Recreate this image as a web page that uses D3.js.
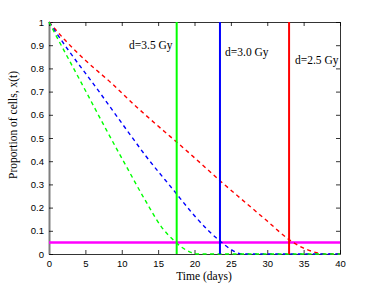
<!DOCTYPE html>
<html lang="en">
<head>
  <meta charset="UTF-8">
  <title>Proportion of cells over time</title>
  <script src="https://d3js.org/d3.v7.min.js"></script>
  <style>
    body { margin: 0; background: #fff; }
    svg { display: block; }
    .tick text { font-family: 'Liberation Sans', Arial, sans-serif; font-size: 9.5px; fill: #000; }
    .lbl { font-family: 'Liberation Serif', 'Times New Roman', serif; font-size: 11.5px; fill: #000; }
  </style>
</head>
<body>
  <div id="chart"></div>
  <script>
    // values
    const redT = [0, 2.2, 5, 8.6, 12, 15.9, 17.5, 20, 23.5, 27, 30, 33, 35, 36.5, 37.5, 40];
    const redX = [1, 0.922, 0.835, 0.736, 0.635, 0.527, 0.484, 0.415, 0.316, 0.222, 0.142, 0.062, 0.025, 0.008, 0, 0];
    const blueT = [0, 2.65, 6.3, 10.7, 13.2, 17.1, 20, 22, 23.5, 25, 26.5, 40];
    const blueX = [1, 0.879, 0.725, 0.534, 0.427, 0.276, 0.165, 0.098, 0.056, 0.02, 0, 0];
    const greenT = [0, 1.3, 4, 7.9, 10.5, 13.2, 15.5, 17.1, 18.3, 19.4, 20.5, 40];
    const greenX = [1, 0.922, 0.764, 0.534, 0.385, 0.233, 0.115, 0.06, 0.028, 0.008, 0, 0];

    const doses = ["d=2.5 Gy", "d=3.0 Gy", "d=3.5 Gy"];
    const threshold = [33.0, 23.5, 17.55];   // days where x(t) hits 0.05
    const cutoff = 0.05;
    const colors = ["#ff0000", "#0000ff", "#00ff00"];

    const xTicks = [0, 5, 10, 15, 20, 25, 30, 35, 40];
    const yTicks = [0, 0.1, 0.2, 0.3, 0.4, 0.5, 0.6, 0.7, 0.8, 0.9, 1];

    const width = 376, height = 286;
    const margin = { top: 22, right: 36, bottom: 32, left: 49 };
    const iw = width - margin.left - margin.right;
    const ih = height - margin.top - margin.bottom;

    const svg = d3.select("#chart").append("svg")
      .attr("width", width)
      .attr("height", height);

    const g = svg.append("g").attr("transform", `translate(${margin.left},${margin.top})`);

    const x = d3.scaleLinear().domain([0, 40]).range([0, iw]);
    const y = d3.scaleLinear().domain([0, 1]).range([ih, 0]);

    const fmt = d => d === 0 || d === 1 ? String(d) : d3.format(".1f")(d);

    // axes, ticks pointing inward, mirrored on top and right
    const axBottom = g.append("g").attr("transform", `translate(0,${ih})`)
      .call(d3.axisBottom(x).tickValues(xTicks).tickSizeInner(-4).tickSizeOuter(0).tickPadding(6));
    const axLeft = g.append("g")
      .call(d3.axisLeft(y).tickValues(yTicks).tickFormat(fmt).tickSizeInner(-4).tickSizeOuter(0).tickPadding(5));
    const axTop = g.append("g")
      .call(d3.axisTop(x).tickValues(xTicks).tickSizeInner(-4).tickSizeOuter(0).tickFormat(""));
    const axRight = g.append("g").attr("transform", `translate(${iw},0)`)
      .call(d3.axisRight(y).tickValues(yTicks).tickSizeInner(-4).tickSizeOuter(0).tickFormat(""));
    [axBottom, axLeft, axTop, axRight].forEach(a => a.selectAll("path, line").attr("stroke", "#000").attr("stroke-width", 0.8));
    axLeft.select("path").attr("stroke", "#7f7f7f").attr("stroke-width", 2);

    // dashed decay curves
    const series = [
      { t: redT, v: redX, c: colors[0] },
      { t: blueT, v: blueX, c: colors[1] },
      { t: greenT, v: greenX, c: colors[2] }
    ];
    const line = d3.line().x(d => x(d[0])).y(d => y(d[1])).curve(d3.curveMonotoneX);

    // threshold line
    g.append("line")
      .attr("x1", 0).attr("x2", iw)
      .attr("y1", y(cutoff)).attr("y2", y(cutoff))
      .attr("stroke", "#ff00ff").attr("stroke-width", 2.5);

    series.forEach(s => {
      g.append("path")
        .datum(s.t.map((t, i) => [t, s.v[i]]))
        .attr("d", line)
        .attr("fill", "none")
        .attr("stroke", s.c)
        .attr("stroke-width", 1.4)
        .attr("stroke-dasharray", "4,3.5");
    });

    // vertical lines at the threshold crossing
    threshold.forEach((t, i) => {
      g.append("line")
        .attr("x1", x(t)).attr("x2", x(t))
        .attr("y1", 0).attr("y2", ih)
        .attr("stroke", colors[i]).attr("stroke-width", 2);
    });

    // annotations
    const notes = [
      { txt: doses[0], t: 33.8, v: 0.82 },
      { txt: doses[1], t: 24.2, v: 0.855 },
      { txt: doses[2], t: 11.0, v: 0.885 }
    ];
    notes.forEach(n => {
      g.append("text").attr("class", "lbl")
        .attr("x", x(n.t)).attr("y", y(n.v))
        .text(n.txt);
    });

    svg.append("text").attr("class", "lbl")
      .attr("x", 204).attr("y", 280)
      .attr("text-anchor", "middle")
      .text("Time (days)");

    svg.append("text").attr("class", "lbl")
      .attr("transform", `translate(17,125) rotate(-90)`)
      .attr("text-anchor", "middle")
      .text("Proportion of cells, x(t)");
  </script>
</body>
</html>
